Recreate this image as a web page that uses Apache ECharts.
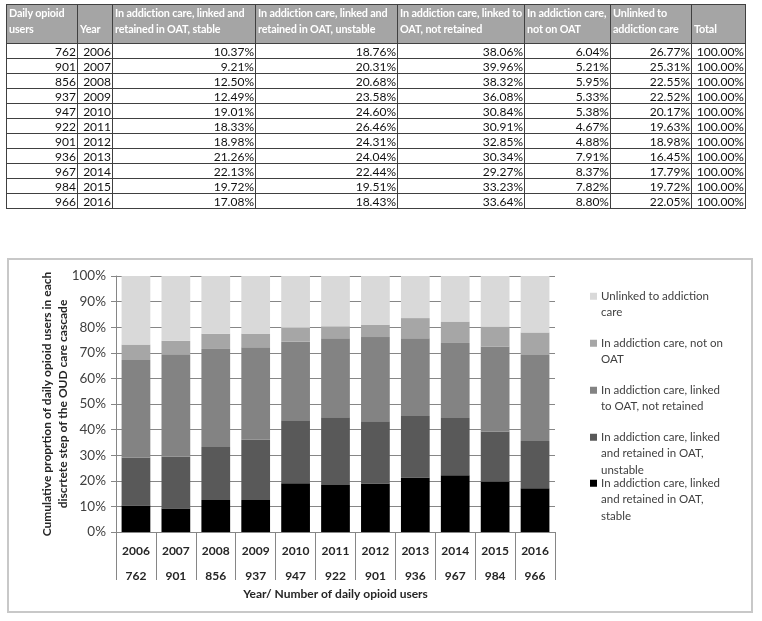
<!DOCTYPE html>
<html><head><meta charset="utf-8">
<script src="https://cdn.jsdelivr.net/npm/echarts@6/dist/echarts.min.js"></script>
<style>
html,body{margin:0;padding:0;background:#fff;}
#chart{position:absolute;left:0;top:0;width:762px;height:621px;}
#tbl{position:absolute;left:6px;top:4px;width:739px;border-collapse:collapse;font-family:Lato,sans-serif;font-size:12px;table-layout:fixed;}
#tbl th,#tbl td{border:1px solid #404040;overflow:hidden;white-space:nowrap;box-sizing:border-box;}
#tbl th{background:#a5a5a5;color:#fff;font-weight:bold;font-size:10.8px;letter-spacing:-0.15px;text-align:left;vertical-align:bottom;height:38px;line-height:16px;padding:0 0 6px 2px;}
#tbl td{text-align:right;height:15px;line-height:13px;color:#111;padding:0 1px 0 0;}
</style></head><body>
<div id="chart"></div>
<table id="tbl"></table>
<script>
// ---- data ----
const years = ['2006','2007','2008','2009','2010','2011','2012','2013','2014','2015','2016'];
const users = [762, 901, 856, 937, 947, 922, 901, 936, 967, 984, 966];
const stable = [10.37, 9.21, 12.50, 12.49, 19.01, 18.33, 18.98, 21.26, 22.13, 19.72, 17.08];
const unstable = [18.76, 20.31, 20.68, 23.58, 24.60, 26.46, 24.31, 24.04, 22.44, 19.51, 18.43];
const notRetained = [38.06, 39.96, 38.32, 36.08, 30.84, 30.91, 32.85, 30.34, 29.27, 33.23, 33.64];
const notOnOAT = [6.04, 5.21, 5.95, 5.33, 5.38, 4.67, 4.88, 7.91, 8.37, 7.82, 8.80];
const unlinked = [26.77, 25.31, 22.55, 22.52, 20.17, 19.63, 18.98, 16.45, 17.79, 19.72, 22.05];
const totals = [100, 100, 100, 100, 100, 100, 100, 100, 100, 100, 100];
const tableHeaders = ['Daily opioid\nusers', 'Year', 'In addiction care, linked and\nretained in OAT, stable', 'In addiction care, linked and\nretained in OAT, unstable', 'In addiction care, linked to\nOAT, not retained', 'In addiction care,\nnot on OAT', 'Unlinked to\naddiction care', 'Total'];
const seriesNames = ['In addiction care, linked and retained in OAT, stable', 'In addiction care, linked and retained in OAT, unstable', 'In addiction care, linked to OAT, not retained', 'In addiction care, not on OAT', 'Unlinked to addiction care'];
const legendLabels = ['In addiction care, linked\nand retained in OAT,\nstable', 'In addiction care, linked\nand retained in OAT,\nunstable', 'In addiction care, linked\nto OAT, not retained', 'In addiction care, not on\nOAT', 'Unlinked to addiction\ncare'];
const yAxisTitle = 'Cumulative proprtion of daily opioid users in each\ndiscrtete step of the OUD care cascade';
const xAxisTitle = 'Year/ Number of daily opioid users';

// ---- table ----
const seriesValues = [stable, unstable, notRetained, notOnOAT, unlinked];
const colW = [71, 35, 143, 142, 127, 86, 81, 54];
const tbl = document.getElementById('tbl');
const cg = document.createElement('colgroup');
colW.forEach(w => { const c = document.createElement('col'); c.style.width = w + 'px'; cg.appendChild(c); });
tbl.appendChild(cg);
const hr = document.createElement('tr');
tableHeaders.forEach(h => {
  const th = document.createElement('th');
  h.split('\n').forEach((line, i) => { if (i) th.appendChild(document.createElement('br')); th.appendChild(document.createTextNode(line)); });
  hr.appendChild(th);
});
tbl.appendChild(hr);
years.forEach((y, i) => {
  const tr = document.createElement('tr');
  const cells = [String(users[i]), y].concat(seriesValues.map(s => s[i].toFixed(2) + '%'), [totals[i].toFixed(2) + '%']);
  cells.forEach(c => { const td = document.createElement('td'); td.textContent = c; tr.appendChild(td); });
  tbl.appendChild(tr);
});

// ---- chart ----
const colors = ['#000000', '#595959', '#838383', '#a6a6a6', '#d9d9d9'];
const font = 'Lato, sans-serif';
const chart = echarts.init(document.getElementById('chart'));
const rich = { sp: { width: 4 }, ind: { width: 11 } };
colors.forEach((c, i) => { rich['b' + i] = { width: 7, height: 7, backgroundColor: c }; });
const legendTops = [475, 429, 382, 335, 288];
const option = {
  animation: false,
  graphic: [{ type: 'rect', silent: true, shape: { x: 8, y: 259, width: 744, height: 353 }, style: { fill: 'none', stroke: '#c8c8c8', lineWidth: 2 } }],
  grid: { left: 116, right: 207, top: 276, bottom: 89 },
  xAxis: {
    type: 'category', data: years,
    axisLine: { lineStyle: { color: '#868686' } },
    axisTick: { show: true, length: 48, interval: 0, lineStyle: { color: '#868686' } },
    axisLabel: { interval: 0, margin: 7, fontFamily: font, fontSize: 12, fontWeight: 'bold', color: '#262626', lineHeight: 25,
      formatter: (v, i) => v + '\n' + users[i] },
    name: xAxisTitle, nameLocation: 'middle', nameGap: 56, nameMoveOverlap: false,
    nameTextStyle: { fontFamily: font, fontSize: 12, fontWeight: 'bold', color: '#262626' }
  },
  yAxis: {
    type: 'value', min: 0, max: 100, interval: 10,
    axisLine: { show: true, lineStyle: { color: '#868686' } },
    axisTick: { show: true, length: 5, lineStyle: { color: '#868686' } },
    axisLabel: { formatter: '{value}%', margin: 10, fontFamily: font, fontSize: 13.5, color: '#404040' },
    splitLine: { lineStyle: { color: '#868686' } },
    name: yAxisTitle, nameLocation: 'middle', nameGap: 45, nameMoveOverlap: false,
    nameTextStyle: { fontFamily: font, fontSize: 12, fontWeight: 'bold', color: '#262626', lineHeight: 16 }
  },
  legend: seriesNames.map((n, i) => ({
    data: [n], top: legendTops[i], left: 585, orient: 'vertical', padding: 0,
    icon: 'none', itemWidth: 0, itemHeight: 0, selectedMode: false,
    formatter: () => legendLabels[i].split('\n').map((l, k) => (k === 0 ? '{b' + i + '|}{sp|}' : '{ind|}') + l).join('\n'),
    textStyle: { fontFamily: font, fontSize: 11.5, color: '#404040', lineHeight: 16.5, rich: rich }
  })),
  series: seriesNames.map((n, i) => ({
    name: n, type: 'bar', stack: 'total', data: seriesValues[i], barCategoryGap: '28%',
    itemStyle: { color: colors[i] }
  }))
};
chart.setOption(option);
</script>
</body></html>
